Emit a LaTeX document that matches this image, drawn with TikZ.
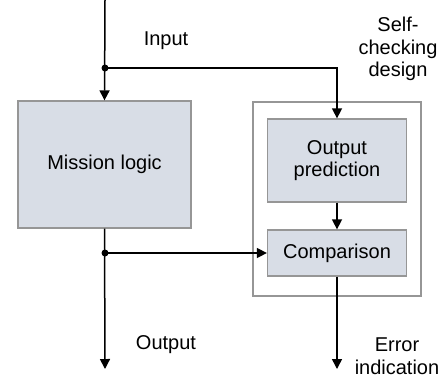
\documentclass[tikz,border=0pt]{standalone}
\usepackage{fontspec}
\setmainfont{Liberation Sans}
\usetikzlibrary{arrows.meta}
\definecolor{boxfill}{RGB}{216,221,230}
\definecolor{boxline}{RGB}{150,150,150}
\tikzset{
  blockbox/.style={draw=boxline, fill=boxfill, line width=1.3pt, inner sep=0pt, align=center},
  framebox/.style={draw=boxline, line width=1.3pt, inner sep=0pt},
  flow/.style={line width=1.5pt, -{Triangle[length=10pt,width=10pt]}},
  junction/.style={circle, fill=black, inner sep=0pt, minimum size=7pt},
  lbl/.style={align=center, inner sep=0pt},
}
\begin{document}
\begin{tikzpicture}[x=1pt, y=-1pt, font=\fontsize{20}{22.5}\selectfont]
\useasboundingbox (0,0) rectangle (443,380);

% blocks
\node[blockbox, minimum width=173pt, minimum height=127pt] (ml) at (104.5,164.5) {Mission logic};
\node[framebox, minimum width=168pt, minimum height=194pt] (scd) at (337,199) {};
\node[blockbox, minimum width=139pt, minimum height=83pt] (op) at (337,160.5) {Output\\prediction};
\node[blockbox, minimum width=139pt, minimum height=46pt] (cmp) at (337,253) {Comparison};

% free ends and branch points
\coordinate (in) at (105,0);
\coordinate (split1) at (105,68);
\coordinate (split2) at (105,253);
\coordinate (out) at (105,369);
\coordinate (err) at (337,369);

% connectors
\draw[flow] (in) -- (ml.north);
\draw[flow] (split1) -| (op.north);
\draw[flow] (op.south) -- (cmp.north);
\draw[flow] (ml.south) -- (out);
\draw[flow] (split2) -- (cmp.west);
\draw[flow] (cmp.south) -- (err);
\node[junction] (j1) at (split1) {};
\node[junction] (j2) at (split2) {};

% labels
\node[lbl] (linput) at (166,41) {Input};
\node[lbl] (loutput) at (166,345) {Output};
\node[lbl] (lscd) at (398,49) {Self-\\checking\\design};
\node[lbl] (lerr) at (397,356) {Error\\indication};
\end{tikzpicture}
\end{document}
